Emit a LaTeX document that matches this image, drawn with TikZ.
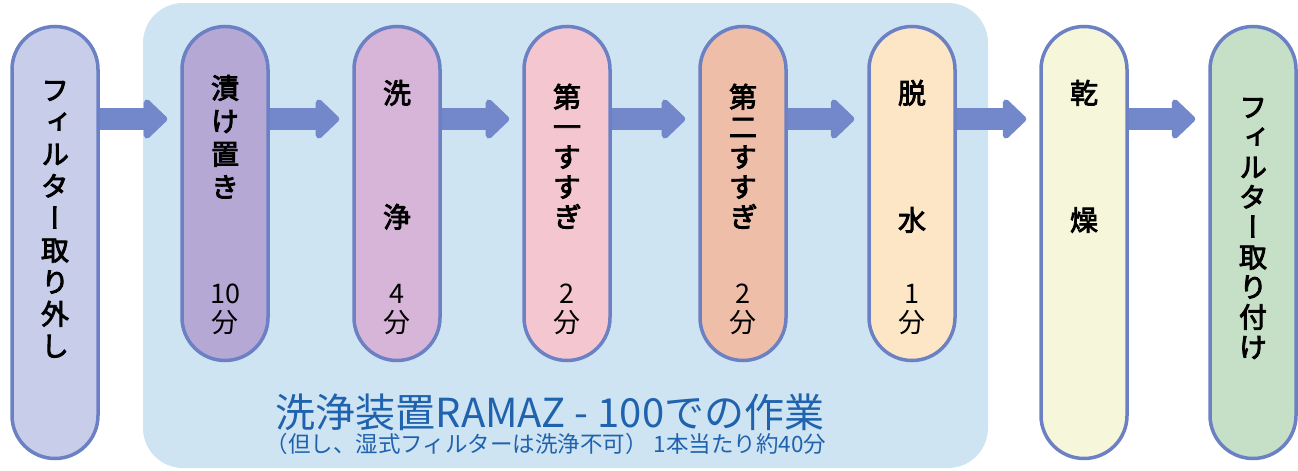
\documentclass[tikz,border=0pt]{standalone}
\usepackage{fontspec}
\usepackage{graphicx}
\setmainfont{Noto Sans CJK JP}
\newfontfamily\jpv[RawFeature=+vert,FakeBold=3]{Noto Sans CJK JP}
\usetikzlibrary{arrows.meta}
\definecolor{bgblue}{HTML}{CFE4F2}
\definecolor{edgec}{HTML}{6C81C4}
\definecolor{arrc}{HTML}{7387CB}
\definecolor{titleblue}{HTML}{1F62AE}
\definecolor{cA}{HTML}{C8CEEA}
\definecolor{cB}{HTML}{B5A8D5}
\definecolor{cC}{HTML}{D7B5D8}
\definecolor{cD}{HTML}{F4C7D0}
\definecolor{cE}{HTML}{EEBEA8}
\definecolor{cF}{HTML}{FCE6C6}
\definecolor{cG}{HTML}{F6F6DA}
\definecolor{cH}{HTML}{C6DFC7}
\tikzset{
  pill/.style={draw=edgec, line width=3.5pt, rounded corners=43pt, minimum width=86pt, inner sep=0pt},
  flow/.style={draw=arrc, line width=22pt, -{Triangle[length=25pt,width=46pt,round]}, shorten >=13pt},
  chr/.style={font=\jpv\fontsize{28pt}{32pt}\selectfont, inner sep=0pt, anchor=base},
  tim/.style={font=\fontsize{27pt}{30pt}\selectfont, inner sep=0pt, anchor=base},
}
\newcommand\vstack[5]{%
  \foreach \c [count=\i from 0] in {#5}{%
    \node[chr] (#1-\i) at (#2,{#3+\i*#4+10.5}) {\c};}}
\begin{document}
\begin{tikzpicture}[x=1pt,y=-1pt]
\useasboundingbox (0,0) rectangle (1298,471);
\node[fill=bgblue, rounded corners=40pt, minimum width=845pt, minimum height=465pt, inner sep=0pt] (bg) at (565.5,235.5) {};
% pills
\node[pill, fill=cA, minimum height=432pt] (p1) at (55,242.5) {};
\node[pill, fill=cB, minimum height=334pt] (p2) at (225,193.5) {};
\node[pill, fill=cC, minimum height=334pt] (p3) at (397,193.5) {};
\node[pill, fill=cD, minimum height=334pt] (p4) at (567,193.5) {};
\node[pill, fill=cE, minimum height=334pt] (p5) at (743,193.5) {};
\node[pill, fill=cF, minimum height=334pt] (p6) at (912,193.5) {};
\node[pill, fill=cG, minimum height=432pt] (p7) at (1084,242.5) {};
\node[pill, fill=cH, minimum height=432pt] (p8) at (1253,242.5) {};
% arrows
\coordinate (ay) at (0,119);
\draw[flow] (p1.east |- ay) -- (p2.west |- ay);
\draw[flow] (p2.east |- ay) -- (p3.west |- ay);
\draw[flow] (p3.east |- ay) -- (p4.west |- ay);
\draw[flow] (p4.east |- ay) -- (p5.west |- ay);
\draw[flow] (p5.east |- ay) -- (p6.west |- ay);
\draw[flow] (p6.east |- ay) -- (p7.west |- ay);
\draw[flow] (p7.east |- ay) -- (p8.west |- ay);
% pill texts
\vstack{t1}{55}{90}{32}{フ,ィ,ル,タ,ー,取,り,外,し}
\vstack{t2}{225}{88}{33}{漬,け,置,き}
\node[chr] (t3a) at (397,{93+10.5}) {洗};
\node[chr] (t3b) at (397,{217+10.5}) {浄};
\vstack{t4}{567}{97}{30}{第,一,す,す,ぎ}
\vstack{t5}{743}{97}{30}{第,二,す,す,ぎ}
\node[chr] (t6a) at (912,{93+10.5}) {脱};
\node[chr] (t6b) at (912,{220+10.5}) {水};
\node[chr] (t7a) at (1084,{93+10.5}) {乾};
\node[chr] (t7b) at (1084,{220+10.5}) {燥};
\vstack{t8}{1253}{107}{30}{フ,ィ,ル,タ,ー,取,り,付,け}
% times
\node[tim] (n2) at (225,303) {10};
\node[tim] (m2) at (225,332) {分};
\node[tim] (n3) at (397,303) {4};
\node[tim] (m3) at (397,332) {分};
\node[tim] (n4) at (567,303) {2};
\node[tim] (m4) at (567,332) {分};
\node[tim] (n5) at (743,303) {2};
\node[tim] (m5) at (743,332) {分};
\node[tim] (n6) at (912,303) {1};
\node[tim] (m6) at (912,332) {分};
% captions
\node[text=titleblue, font=\fontsize{40pt}{44pt}\selectfont, inner sep=0pt, anchor=base] (cap1) at (550,427) {洗浄装置RAMAZ - 100での作業};
\node[text=titleblue, font=\fontsize{22.5pt}{25pt}\selectfont, inner sep=0pt, anchor=base] (cap2) at (546,452) {（但し、湿式フィルターは洗浄不可）\hspace{6pt}1本当たり約40分};
\end{tikzpicture}
\end{document}
